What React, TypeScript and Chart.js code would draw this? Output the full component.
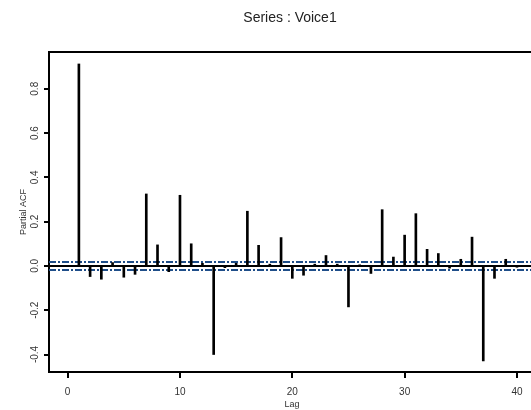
import { useEffect, useRef } from 'react';
import { Chart, registerables } from 'chart.js';

Chart.register(...registerables);

// Partial autocorrelation of the Voice1 series, lags 1..40
const lags = [
  1, 2, 3, 4, 5, 6, 7, 8, 9, 10,
  11, 12, 13, 14, 15, 16, 17, 18, 19, 20,
  21, 22, 23, 24, 25, 26, 27, 28, 29, 30,
  31, 32, 33, 34, 35, 36, 37, 38, 39, 40,
];
const pacf = [
  0.912, -0.048, -0.06, 0.015, -0.051, -0.038, 0.325, 0.095, -0.026, 0.319,
  0.1, 0.012, -0.4, -0.008, 0.012, 0.247, 0.093, 0.008, 0.128, -0.056,
  -0.042, 0.008, 0.047, 0.008, -0.185, 0.005, -0.034, 0.254, 0.04, 0.139,
  0.236, 0.075, 0.056, -0.01, 0.03, 0.13, -0.429, -0.056, 0.03, -0.006,
];
// approximate 95% significance bound
const confBound = 0.018;

const xTickValues = [0, 10, 20, 30, 40];
const yTickValues = [-0.4, -0.2, 0.0, 0.2, 0.4, 0.6, 0.8];

const titleText = 'Series : Voice1';
const xTitle = 'Lag';
const yTitle = 'Partial ACF';

const X_MIN = -1.66;
const X_MAX = 41.25;
const Y_MIN = -0.479;
const Y_MAX = 0.966;

const FONT = '"Liberation Sans", Arial, Helvetica, sans-serif';
const BLUE = '#1f4e89';

const decorPlugin = {
  id: 'acfDecor',
  afterDraw(chart: any) {
    const { ctx, chartArea, scales } = chart;
    const y = scales.y;
    ctx.save();

    // top frame line
    ctx.strokeStyle = '#000';
    ctx.lineWidth = 2;
    ctx.beginPath();
    ctx.moveTo(chartArea.left - 1, chartArea.top);
    ctx.lineTo(chartArea.right, chartArea.top);
    ctx.stroke();

    // rotated y tick labels
    ctx.fillStyle = '#333';
    ctx.font = `10px ${FONT}`;
    ctx.textAlign = 'center';
    ctx.textBaseline = 'middle';
    yTickValues.forEach((v) => {
      const py = y.getPixelForValue(v);
      ctx.save();
      ctx.translate(35, py);
      ctx.rotate(-Math.PI / 2);
      ctx.fillText(v.toFixed(1), 0, 0);
      ctx.restore();
    });

    // axis titles
    ctx.font = `9px ${FONT}`;
    ctx.save();
    ctx.translate(24, (chartArea.top + chartArea.bottom) / 2);
    ctx.rotate(-Math.PI / 2);
    ctx.fillText(yTitle, 0, 0);
    ctx.restore();
    ctx.fillText(xTitle, 292, 405);

    // main title
    ctx.fillStyle = '#222';
    ctx.font = `14px ${FONT}`;
    ctx.fillText(titleText, 290, 18);

    ctx.restore();
  },
};

export default function App() {
  const canvasRef = useRef<HTMLCanvasElement | null>(null);

  useEffect(() => {
    const canvas = canvasRef.current;
    if (!canvas) return;

    const stems = lags.map((lag, i) => ({ x: lag, y: pacf[i] }));
    const hline = (v: number) => [
      { x: X_MIN, y: v },
      { x: X_MAX, y: v },
    ];

    const chart = new Chart(canvas, {
      type: 'bar',
      data: {
        datasets: [
          {
            type: 'bar',
            data: stems as any,
            backgroundColor: '#000',
            borderWidth: 0,
            barThickness: 2,
            order: 0,
          },
          {
            type: 'line',
            data: hline(0) as any,
            borderColor: '#000',
            borderWidth: 2,
            pointRadius: 0,
            order: 1,
          },
          {
            type: 'line',
            data: hline(confBound) as any,
            borderColor: BLUE,
            borderWidth: 2,
            borderDash: [7, 2, 2, 2],
            pointRadius: 0,
            order: 2,
          },
          {
            type: 'line',
            data: hline(-confBound) as any,
            borderColor: BLUE,
            borderWidth: 2,
            borderDash: [7, 2, 2, 2],
            pointRadius: 0,
            order: 2,
          },
        ],
      },
      options: {
        responsive: false,
        animation: false,
        layout: { padding: { top: 52, left: 0, right: 0, bottom: 0 } },
        plugins: {
          legend: { display: false },
          tooltip: { enabled: false },
          title: { display: false },
        },
        scales: {
          x: {
            type: 'linear',
            min: X_MIN,
            max: X_MAX,
            offset: false,
            afterBuildTicks: (s: any) => {
              s.ticks = xTickValues.map((v) => ({ value: v }));
            },
            afterFit: (s: any) => {
              s.height = 38;
            },
            grid: {
              display: true,
              offset: false,
              drawOnChartArea: false,
              drawTicks: true,
              tickLength: 6,
              lineWidth: 2,
              color: '#000',
            },
            border: { display: true, width: 2, color: '#000' },
            ticks: {
              color: '#333',
              font: { family: FONT, size: 10 },
              padding: 8,
              maxRotation: 0,
              autoSkip: false,
            },
          },
          y: {
            type: 'linear',
            min: Y_MIN,
            max: Y_MAX,
            afterBuildTicks: (s: any) => {
              s.ticks = yTickValues.map((v) => ({ value: v }));
            },
            afterFit: (s: any) => {
              s.width = 49;
            },
            grid: {
              display: true,
              drawOnChartArea: false,
              drawTicks: true,
              tickLength: 5,
              lineWidth: 2,
              color: '#000',
            },
            border: { display: true, width: 2, color: '#000' },
            ticks: { display: false },
          },
        },
      },
      plugins: [decorPlugin],
    });

    return () => chart.destroy();
  }, []);

  return (
    <div style={{ position: 'fixed', left: 0, top: 0, width: 531, height: 410, background: '#fff' }}>
      <canvas ref={canvasRef} width={531} height={410} style={{ display: 'block' }} />
    </div>
  );
}
